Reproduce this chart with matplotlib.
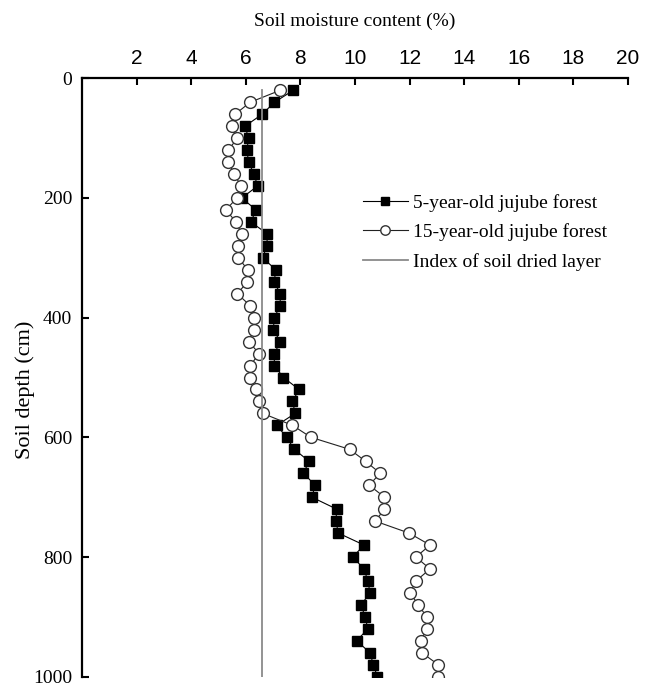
import matplotlib
matplotlib.use('Agg')
import matplotlib.pyplot as plt

plt.rcParams['font.family'] = ['Liberation Serif', 'DejaVu Serif']

# depth (cm) and soil moisture (%)
depth = [20, 40, 60, 80, 100, 120, 140, 160, 180, 200,
         220, 240, 260, 280, 300, 320, 340, 360, 380, 400,
         420, 440, 460, 480, 500, 520, 540, 560, 580, 600,
         620, 640, 660, 680, 700, 720, 740, 760, 780, 800,
         820, 840, 860, 880, 900, 920, 940, 960, 980, 1000]

moist_5yr = [7.74, 7.05, 6.60, 5.97, 6.10, 6.04, 6.10, 6.30, 6.43, 5.85,
             6.38, 6.18, 6.79, 6.77, 6.62, 7.10, 7.04, 7.26, 7.26, 7.04,
             7.01, 7.26, 7.05, 7.04, 7.38, 7.95, 7.71, 7.81, 7.13, 7.50,
             7.77, 8.32, 8.11, 8.54, 8.42, 9.33, 9.30, 9.39, 10.33, 9.92,
             10.33, 10.47, 10.55, 10.22, 10.37, 10.47, 10.06, 10.55, 10.67, 10.82]

moist_15yr = [7.26, 6.16, 5.61, 5.49, 5.69, 5.36, 5.36, 5.58, 5.82, 5.67,
              5.27, 5.64, 5.85, 5.73, 5.73, 6.07, 6.06, 5.69, 6.16, 6.30,
              6.30, 6.10, 6.49, 6.16, 6.16, 6.38, 6.49, 6.62, 7.71, 8.39,
              9.80, 10.39, 10.92, 10.52, 11.08, 11.08, 10.74, 11.98, 12.75, 12.23,
              12.75, 12.23, 12.02, 12.32, 12.63, 12.63, 12.41, 12.45, 13.05, 13.05]

dried_index = 6.6
index_depth = [20, 1000]

fig = plt.figure(figsize=(6.52, 6.87), dpi=100)
ax = fig.add_axes([0.1258, 0.015, 0.8374, 0.871])

ax.plot(moist_5yr, depth, color='black', linewidth=0.8, marker='s',
        markersize=7.5, markerfacecolor='black', markeredgecolor='black',
        label='5-year-old jujube forest')
ax.plot(moist_15yr, depth, color='#222222', linewidth=0.8, marker='o',
        markersize=8.5, markerfacecolor='white', markeredgecolor='#333333',
        markeredgewidth=1.0, label='15-year-old jujube forest')
ax.plot([dried_index, dried_index], index_depth, color='#8a8a8a', linewidth=1.3,
        label='Index of soil dried layer')

ax.set_xlim(0, 20)
ax.set_ylim(1000, 0)
ax.xaxis.tick_top()
ax.xaxis.set_label_position('top')
ax.set_xticks([2, 4, 6, 8, 10, 12, 14, 16, 18, 20])
ax.set_yticks([0, 200, 400, 600, 800, 1000])

for lab in ax.get_xticklabels():
    lab.set_family(['Liberation Sans', 'DejaVu Sans'])
    lab.set_fontsize(15)
ax.tick_params(axis='x', direction='in', length=5, width=1.5, pad=7.5)
ax.tick_params(axis='y', direction='in', length=5, width=1.5, pad=7, labelsize=14)

ax.set_xlabel('Soil moisture content (%)', fontsize=14, labelpad=16.5)
ax.set_ylabel('Soil depth (cm)', fontsize=16)
ax.yaxis.set_label_coords(-0.086, 0.48)

ax.spines['right'].set_visible(False)
ax.spines['bottom'].set_visible(False)
ax.spines['top'].set_linewidth(1.6)
ax.spines['left'].set_linewidth(1.6)

ax.legend(loc='upper left', bbox_to_anchor=(0.5, 0.82), frameon=False,
          fontsize=14, handlelength=2.3, handletextpad=0.3, labelspacing=0.6,
          markerscale=0.8, borderaxespad=0)

fig.savefig('out.png', dpi=100)
